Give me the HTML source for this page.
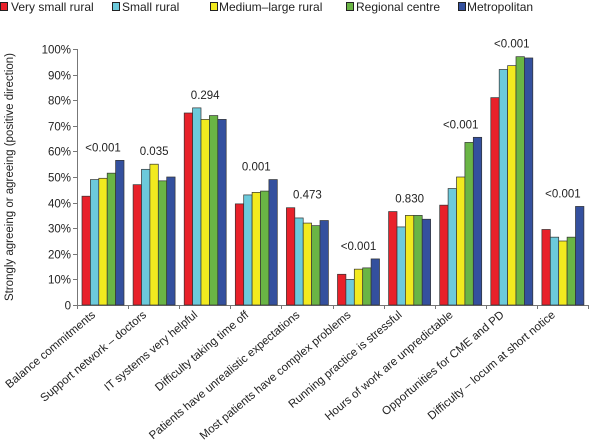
<!DOCTYPE html>
<html><head><meta charset="utf-8"><style>
body{margin:0;background:#fff;}
svg{display:block;font-family:"Liberation Sans",sans-serif;}
</style></head><body>
<svg width="600" height="447" viewBox="0 0 600 447" xmlns="http://www.w3.org/2000/svg">
<g font-size="12" fill="#222">
<rect x="0.5" y="2.5" width="7" height="8" fill="#e8212a" stroke="#222"/><text x="11" y="11">Very small rural</text>
<rect x="112.5" y="2.5" width="7" height="8" fill="#6ccadb" stroke="#222"/><text x="122" y="11">Small rural</text>
<rect x="210.5" y="2.5" width="7" height="8" fill="#f2ea1f" stroke="#222"/><text x="219" y="11">Medium–large rural</text>
<rect x="346.5" y="2.5" width="7" height="8" fill="#6ab545" stroke="#222"/><text x="356" y="11">Regional centre</text>
<rect x="458.5" y="2.5" width="7" height="8" fill="#34509e" stroke="#222"/><text x="467" y="11">Metropolitan</text>
</g>
<g id="axes" stroke="#777" stroke-width="1"></g>
<g id="bars"></g>
<g id="txt" font-size="11.5" fill="#222"></g>
<text transform="translate(13,177) rotate(-90)" text-anchor="middle" font-size="11.5" fill="#222">Strongly agreeing or agreeing (positive direction)</text>
<script>
const ns="http://www.w3.org/2000/svg";
function el(p,t,a,txt){const e=document.createElementNS(ns,t);for(const k in a)e.setAttribute(k,a[k]);if(txt!=null)e.textContent=txt;p.appendChild(e);return e;}
const ax=document.getElementById('axes'),bars=document.getElementById('bars'),tx=document.getElementById('txt');
const x0=77,y0=305,yt=49,h=(y0-yt)/100,pitch=51.1;
el(ax,'line',{x1:x0+.5,y1:yt,x2:x0+.5,y2:y0});
el(ax,'line',{x1:x0,y1:y0+.5,x2:588,y2:y0+.5});
for(let i=0;i<=10;i++){const y=Math.round(y0-i*10*h)+.5;el(ax,'line',{x1:x0-4,y1:y,x2:x0,y2:y});
el(tx,'text',{x:x0-6,y:y+4,'text-anchor':'end'},i==0?'0':(i*10)+'%');}
for(let i=0;i<=10;i++){const x=Math.round(x0+i*pitch)+.5;el(ax,'line',{x1:x,y1:y0,x2:x,y2:y0+4});}
const cols=['#e8212a','#6ccadb','#f2ea1f','#6ab545','#34509e'];
const data=[[42.5,49,49.5,51.5,56.5],[47,53,55,48.5,50],[75,77,72.5,74,72.5],[39.5,43,44,44.5,49],[38,34,32,31,33],[12,10,14,14.5,18],[36.5,30.5,35,35,33.5],[39,45.5,50,63.5,65.5],[81,92,93.5,97,96.5],[29.5,26.5,25,26.5,38.5]];
const ps=['<0.001','0.035','0.294','0.001','0.473','<0.001','0.830','<0.001','<0.001','<0.001'];
const labs=['Balance commitments','Support network – doctors','IT systems very helpful','Difficulty taking time off','Patients have unrealistic expectations','Most patients have complex problems','Running practice is stressful','Hours of work are unpredictable','Opportunities for CME and PD','Difficulty – locum at short notice'];
data.forEach((g,i)=>{const gx=x0+i*pitch+5;let mx=0;
g.forEach((v,j)=>{const y=y0-v*h;mx=Math.max(mx,v);el(bars,'rect',{x:gx+j*8.4,y:y,width:8.4,height:y0-y,fill:cols[j],stroke:'#333','stroke-width':0.7});});
el(tx,'text',{x:gx+21,y:y0-mx*h-9,'text-anchor':'middle'},ps[i]);
const lx=gx+14,ly=y0+11;
el(tx,'text',{x:lx,y:ly,'text-anchor':'end',transform:`rotate(-40 ${lx} ${ly})`},labs[i]);
});
</script>
</svg>
</body></html>
